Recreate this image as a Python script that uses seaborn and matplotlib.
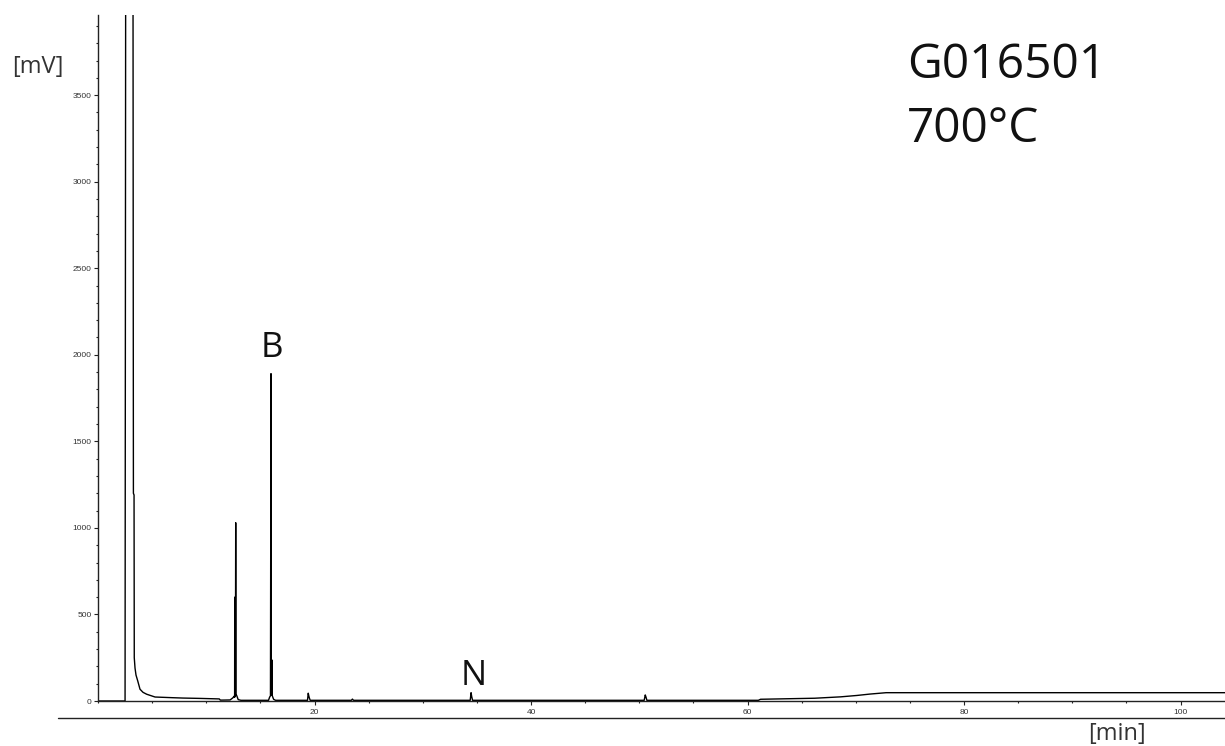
import numpy as np
import pandas as pd
import matplotlib
matplotlib.use("Agg")
import matplotlib.pyplot as plt
import seaborn as sns
from matplotlib.ticker import MultipleLocator, FixedLocator
from matplotlib.lines import Line2D

# ---- data ----
time_min = [0.0, 2.50, 2.56, 3.23, 3.27, 3.33, 3.35, 3.42, 3.51, 3.67, 3.88, 4.16,
            4.50, 5.27, 6.93, 7.85, 9.42, 11.20, 11.30, 12.20, 12.45, 12.58, 12.62,
            12.63, 12.65, 12.69, 12.72, 12.75, 12.82, 12.95, 13.20, 15.75, 15.85,
            15.93, 15.98, 16.01, 16.04, 16.07, 16.10, 16.22, 16.40, 19.35, 19.42,
            19.47, 19.52, 19.60, 23.40, 23.50, 23.60, 34.38, 34.46, 34.52, 34.60,
            50.45, 50.55, 50.62, 50.70, 61.00, 61.20, 66.20, 68.60, 70.10, 71.30,
            72.80, 104.5]
signal_mv = [0, 0, 4500, 4500, 1200, 1190, 250, 190, 150, 116, 68, 50,
             39, 23, 19, 17, 15, 12, 5, 6, 18, 28, 22,
             600, 25, 35, 1030, 40, 30, 8, 4, 4, 22,
             30, 1891, 40, 35, 237, 30, 10, 4, 4, 45,
             30, 18, 4, 4, 11, 4, 4, 48, 25, 4,
             4, 35, 22, 4, 4, 10, 16, 24, 32, 40,
             48, 48]

sample_id = "G016501"
temperature = "700°C"
peak_labels = ["B", "N"]
x_major = [20, 40, 60, 80, 100]
y_major = [0, 500, 1000, 1500, 2000, 2500, 3000, 3500]
x_unit = "[min]"
y_unit = "[mV]"

# ---- style ----
sns.set_style("ticks")
plt.rcParams["font.family"] = ["Open Sans", "DejaVu Sans"]

W, H = 1225, 746
fig = plt.figure(figsize=(W / 100, H / 100), dpi=100)
ax = fig.add_axes([98 / W, 45 / H, 1 - 98 / W, 686 / H])

df = pd.DataFrame({"time": time_min, "signal": signal_mv})
sns.lineplot(data=df, x="time", y="signal", estimator=None, sort=False,
             color="black", lw=1.0, ax=ax)

ax.set_xlim(0, 104.1)
ax.set_ylim(0, 3963)
ax.set_xlabel("")
ax.set_ylabel("")

for s in ["top", "right"]:
    ax.spines[s].set_visible(False)
for s in ["left", "bottom"]:
    ax.spines[s].set_color("#222222")
    ax.spines[s].set_linewidth(1.0)

ax.xaxis.set_major_locator(FixedLocator(x_major))
ax.xaxis.set_minor_locator(MultipleLocator(5))
ax.yaxis.set_major_locator(FixedLocator(y_major))
ax.yaxis.set_minor_locator(MultipleLocator(100))
ax.tick_params(axis="both", which="major", direction="out", length=3, width=0.8,
               color="#222222", labelsize=6, labelcolor="#333333")
ax.tick_params(axis="both", which="minor", direction="out", length=1.5, width=0.8,
               color="#222222")
ax.tick_params(axis="y", pad=1.5)
ax.tick_params(axis="x", pad=3)
for lab in ax.get_xticklabels() + ax.get_yticklabels():
    lab.set_family(["Liberation Sans", "DejaVu Sans"])

# peak labels
ax.text(16.08, 1987, peak_labels[0], ha="center", va="baseline", fontsize=25, color="#111111")
ax.text(34.73, 92, peak_labels[1], ha="center", va="baseline", fontsize=25, color="#111111")

# sample annotation
fig.text(907 / W, (H - 78) / H, sample_id, ha="left", va="baseline", fontsize=34.5, color="#111111")
fig.text(907 / W, (H - 142) / H, temperature, ha="left", va="baseline", fontsize=34.5, color="#111111")

# units
fig.text(12 / W, (H - 73) / H, y_unit, ha="left", va="baseline", fontsize=17, color="#333333")
fig.text(1088 / W, (H - 740) / H, x_unit, ha="left", va="baseline", fontsize=17, color="#333333")

# lower frame line
fig.add_artist(Line2D([58 / W, 1.0], [28 / H, 28 / H], color="#222222", lw=1.0))

fig.savefig("out.png", dpi=100)
